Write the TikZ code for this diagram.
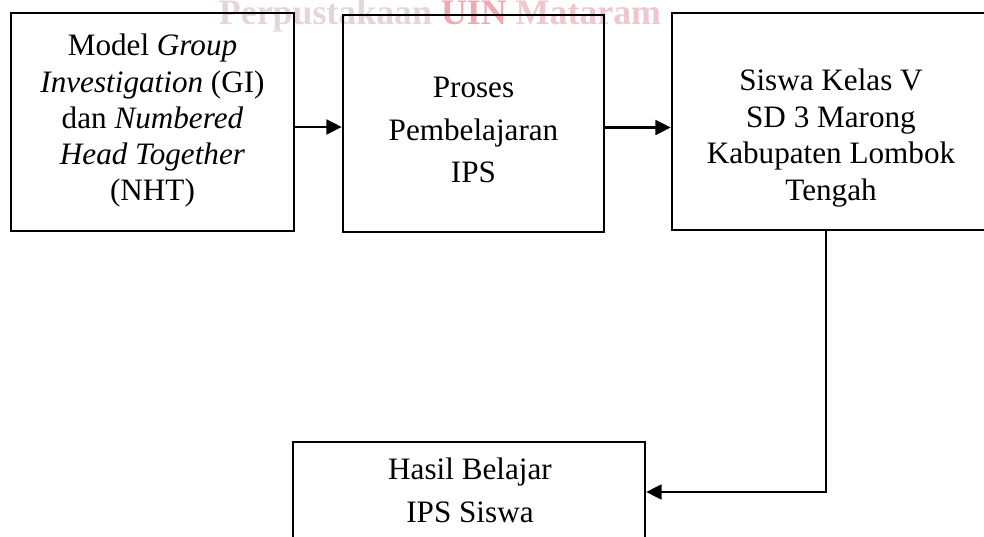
\documentclass[tikz,border=0pt]{standalone}
\usepackage{fontspec}
\setmainfont{Liberation Serif}
\usepackage{tikz}
\usetikzlibrary{arrows.meta, positioning}
\definecolor{abuMarca}{RGB}{228,214,216}
\definecolor{merahMarca}{RGB}{240,168,178}
\definecolor{rosaMarca}{RGB}{238,200,206}

\begin{document}
\begin{tikzpicture}[
    x=0.015cm, y=-0.015cm,
    box/.style={draw=black, line width=1pt, inner sep=0pt},
    teks/.style={align=center, inner sep=0pt, font=\fontsize{13.3}{15.4}\selectfont},
    arrow/.style={line width=1pt, -{Triangle[length=0.23cm, width=0.22cm]}}
]
    \useasboundingbox (0,0) rectangle (984,537);
    \clip (0,0) rectangle (984,537);

    % Tanda air
    \node[anchor=base, inner sep=0pt, font=\fontsize{15.3}{18}\bfseries\selectfont] (marca) at (440,25)
        {\textcolor{abuMarca}{Perpustakaan} \textcolor{merahMarca}{UIN} \textcolor{rosaMarca}{Mataram}};

    % Kotak
    \node[box, minimum width=4.245cm, minimum height=3.27cm] (gi) at (152.5,122) {};
    \node[box, minimum width=3.915cm, minimum height=3.255cm] (proses) at (473.5,123.5) {};
    \node[box, minimum width=4.77cm, minimum height=3.255cm] (siswa) at (831,121.5) {};
    \node[box, minimum width=5.28cm, minimum height=1.5cm] (hasil) at (469,492) {};

    % Teks
    \node[teks] (giTeks) at (gi.center) [yshift=0.02cm]
        {Model \textit{Group}\\ \textit{Investigation} (GI)\\ dan \textit{Numbered}\\ \textit{Head Together}\\ (NHT)};
    \node[teks, font=\fontsize{13.3}{18.1}\selectfont] (prosesTeks) at (473.5,130) {Proses\\ Pembelajaran\\ IPS};
    \node[teks, font=\fontsize{13.3}{15.6}\selectfont] (siswaTeks) at (831,138) {Siswa Kelas V\\ SD 3 Marong\\ Kabupaten Lombok\\ Tengah};
    \node[teks, font=\fontsize{13.3}{18.3}\selectfont] (hasilTeks) at (470,490) {Hasil Belajar\\ IPS Siswa};

    % Panah
    \draw[arrow] ([yshift=-0.075cm]gi.east) -- ([yshift=-0.075cm]gi.east -| proses.west);
    \draw[arrow] ([yshift=-0.06cm]proses.east) -- ([yshift=-0.06cm]proses.east -| siswa.west);
    \draw[arrow] ([xshift=-0.075cm]siswa.south) |- (hasil.east);
\end{tikzpicture}
\end{document}
